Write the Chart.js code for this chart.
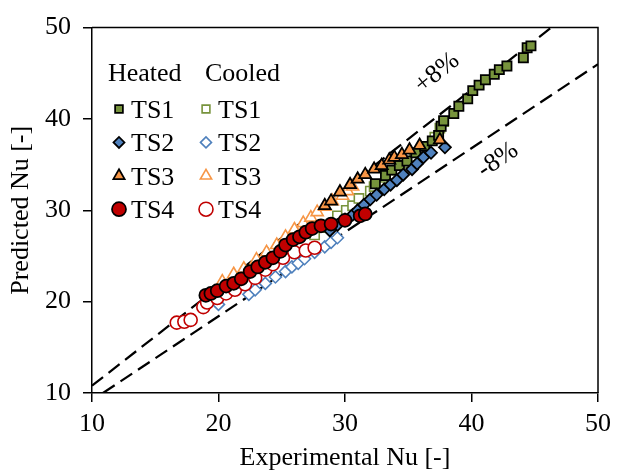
<!DOCTYPE html>
<html>
<head>
<meta charset="utf-8">
<script src="https://cdn.jsdelivr.net/npm/chart.js@4.4.1/dist/chart.umd.min.js"></script>
<style>
  html, body { margin: 0; padding: 0; background: #fff; }
  #wrap { width: 618px; height: 475px; }
</style>
</head>
<body>
<div id="wrap"><canvas id="nuChart"></canvas></div>
<script>
// ── Data ────────────────────────────────────────────────────
const heatedTS1X = [32.4, 33.2, 33.7, 34.3, 34.9, 35.6, 36.3, 36.9, 37.4, 37.6, 37.8, 38.6, 39.0, 39.7, 40.1, 40.6, 41.1, 41.8, 42.2, 42.8, 44.1, 44.4, 44.7];
const heatedTS1Y = [32.9, 33.8, 34.4, 34.9, 35.4, 36.3, 37.0, 37.6, 38.2, 39.2, 39.8, 40.6, 41.4, 42.2, 43.1, 43.7, 44.3, 44.9, 45.4, 45.8, 46.7, 47.8, 48.0];

const heatedTS2X = [28.8, 29.4, 30.0, 30.6, 31.0, 31.5, 32.0, 32.5, 33.1, 33.6, 34.1, 34.6, 35.3, 35.7, 36.2, 36.8, 37.9];
const heatedTS2Y = [27.8, 28.4, 29.0, 29.5, 30.0, 30.6, 31.2, 31.7, 32.3, 32.8, 33.3, 33.9, 34.5, 35.1, 35.8, 36.3, 36.9];

const heatedTS3X = [28.4, 28.9, 29.6, 30.4, 31.0, 31.6, 32.3, 32.9, 33.5, 33.9, 34.5, 35.1, 35.9, 37.5];
const heatedTS3Y = [30.5, 31.0, 32.0, 32.8, 33.4, 33.9, 34.5, 34.9, 35.5, 35.8, 36.1, 36.6, 37.1, 37.7];

const heatedTS4X = [19.0, 19.4, 19.9, 20.6, 21.2, 21.8, 22.5, 23.1, 23.7, 24.3, 24.9, 25.3, 25.9, 26.4, 26.9, 27.4, 28.1, 28.9, 30.0, 31.2, 31.6];
const heatedTS4Y = [20.7, 20.9, 21.2, 21.7, 22.0, 22.5, 23.3, 23.8, 24.3, 24.8, 25.5, 26.2, 26.8, 27.1, 27.6, 28.0, 28.3, 28.5, 28.9, 29.4, 29.6];

const cooledTS1X = [27.6, 28.4, 29.4, 30.1, 30.6, 31.1, 32.0, 32.3, 33.2, 34.1, 34.9, 35.5, 36.3, 37.1, 37.5, 37.8];
const cooledTS1Y = [27.3, 28.1, 29.4, 30.0, 30.5, 31.3, 32.1, 32.6, 33.6, 34.4, 35.2, 35.9, 36.8, 38.0, 39.0, 39.7];

const cooledTS2X = [20.0, 22.4, 22.9, 23.7, 24.5, 25.3, 25.8, 26.3, 26.8, 27.6, 28.4, 28.9, 29.4];
const cooledTS2Y = [19.7, 20.8, 21.3, 22.0, 22.7, 23.3, 23.8, 24.2, 24.7, 25.4, 26.0, 26.5, 27.0];

const cooledTS3X = [20.3, 21.2, 22.0, 23.0, 23.8, 24.6, 25.3, 26.0, 26.7, 27.3, 27.8, 28.4, 29.0, 29.8, 30.2, 30.6];
const cooledTS3Y = [22.2, 23.0, 23.6, 24.6, 25.4, 26.2, 27.1, 27.9, 28.6, 29.2, 29.8, 30.4, 31.0, 31.6, 32.1, 32.6];

const cooledTS4X = [16.7, 17.3, 17.8, 18.8, 19.1, 19.9, 20.6, 21.3, 22.1, 22.9, 23.7, 24.3, 25.1, 26.0, 26.9, 27.6];
const cooledTS4Y = [17.7, 17.8, 18.0, 19.4, 19.9, 20.4, 20.9, 21.3, 21.9, 22.6, 23.5, 24.1, 24.8, 25.4, 25.6, 25.9];

// ±8 % band end points
const plus8X = [10, 46.3];
const plus8Y = [10.8, 50];
const minus8X = [10.87, 50];
const minus8Y = [10, 46];

const axisTicks = [10, 20, 30, 40, 50];

// ── Styles ─────────────────────────────────────────────────
const FONT = "'Liberation Serif', 'Times New Roman', serif";
const GREEN = '#77933C';
const BLUE = '#4F81BD';
const ORANGE = '#F79646';
const RED = '#C00000';

const pts = (xs, ys) => xs.map((x, i) => ({ x, y: ys[i] }));

const marker = (style, r) => ({ pointStyle: style, pointRadius: r, pointHoverRadius: r });

function heated(label, xs, ys, color, style, r, order) {
  return {
    label, data: pts(xs, ys), order,
    backgroundColor: color, borderColor: '#000', pointBorderWidth: 1.75,
    ...marker(style, r)
  };
}
function cooled(label, xs, ys, color, style, r, order) {
  return {
    label, data: pts(xs, ys), order,
    backgroundColor: '#fff', borderColor: color, pointBorderWidth: 1.6,
    ...marker(style, r)
  };
}
function band(label, xs, ys) {
  return {
    label, data: pts(xs, ys), order: 20, showLine: true,
    borderColor: '#000', borderWidth: 2.25, borderDash: [14, 7], pointRadius: 0
  };
}

const datasets = [
  heated('Heated TS1', heatedTS1X, heatedTS1Y, GREEN, 'rect', 6.5, 4),
  heated('Heated TS2', heatedTS2X, heatedTS2Y, BLUE, 'rectRot', 6, 3),
  heated('Heated TS3', heatedTS3X, heatedTS3Y, ORANGE, 'triangle', 7, 2),
  heated('Heated TS4', heatedTS4X, heatedTS4Y, RED, 'circle', 6.5, 1),
  cooled('Cooled TS1', cooledTS1X, cooledTS1Y, GREEN, 'rect', 6.5, 8),
  cooled('Cooled TS2', cooledTS2X, cooledTS2Y, BLUE, 'rectRot', 6, 7),
  cooled('Cooled TS3', cooledTS3X, cooledTS3Y, ORANGE, 'triangle', 7, 6),
  cooled('Cooled TS4', cooledTS4X, cooledTS4Y, RED, 'circle', 6.5, 5),
  band('+8%', plus8X, plus8Y),
  band('-8%', minus8X, minus8Y)
];

// ── Custom plugin: frame, band labels, two-column legend ───
function drawMarker(ctx, ds, x, y, r) {
  ctx.save();
  ctx.fillStyle = ds.backgroundColor;
  ctx.strokeStyle = ds.borderColor;
  ctx.lineWidth = ds.pointBorderWidth;
  if (Chart.helpers && Chart.helpers.drawPoint) {
    Chart.helpers.drawPoint(ctx, { pointStyle: ds.pointStyle, radius: r, rotation: 0, borderWidth: ds.pointBorderWidth }, x, y);
  } else {
    ctx.beginPath();
    ctx.arc(x, y, r, 0, Math.PI * 2);
    ctx.fill();
    ctx.stroke();
  }
  ctx.restore();
}

const decorPlugin = {
  id: 'decor',
  afterDatasetsDraw(chart) {
    const { ctx, chartArea: a } = chart;
    ctx.save();
    // top & right frame
    ctx.strokeStyle = '#000';
    ctx.lineWidth = 1.5;
    ctx.beginPath();
    ctx.moveTo(a.left, a.top);
    ctx.lineTo(a.right, a.top);
    ctx.lineTo(a.right, a.bottom);
    ctx.stroke();

    // band labels
    ctx.fillStyle = '#000';
    ctx.font = '26px ' + FONT;
    ctx.textAlign = 'center';
    ctx.textBaseline = 'middle';
    [['+8%', 437, 73, -39], ['-8%', 498, 160, -34.5]].forEach(([t, x, y, deg]) => {
      ctx.save();
      ctx.translate(x, y);
      ctx.rotate(deg * Math.PI / 180);
      ctx.fillText(t, 0, 0);
      ctx.restore();
    });

    // legend
    ctx.textAlign = 'left';
    ctx.textBaseline = 'alphabetic';
    ctx.fillText('Heated', 108, 81);
    ctx.fillText('Cooled', 205, 81);
    const names = ['TS1', 'TS2', 'TS3', 'TS4'];
    const legendR = [5.5, 5.5, 6.5, 7];
    names.forEach((n, i) => {
      const y = 109 + i * 33.4;
      drawMarker(ctx, chart.data.datasets[i], 119, y, legendR[i]);
      drawMarker(ctx, chart.data.datasets[i + 4], 206, y, legendR[i]);
      ctx.fillText(n, 131, y + 9);
      ctx.fillText(n, 218, y + 9);
    });
    ctx.restore();
  }
};

// ── Chart ──────────────────────────────────────────────────
const axisCommon = {
  type: 'linear',
  min: 10, max: 50,
  afterBuildTicks: s => { s.ticks = axisTicks.map(v => ({ value: v })); },
  grid: { drawOnChartArea: false, color: '#000', tickLength: 9, lineWidth: 1.5 },
  border: { display: true, color: '#000', width: 1.5 },
  ticks: { color: '#000', font: { family: FONT, size: 26 } },
  title: { display: true, color: '#000', font: { family: FONT, size: 26 } }
};

new Chart(document.getElementById('nuChart'), {
  type: 'scatter',
  data: { datasets },
  options: {
    responsive: true,
    maintainAspectRatio: false,
    animation: false,
    layout: { padding: { top: 16, right: 13, left: 0, bottom: 0 } },
    plugins: { legend: { display: false }, tooltip: { enabled: false } },
    scales: {
      x: {
        ...axisCommon,
        ticks: { ...axisCommon.ticks, padding: 7 },
        title: { ...axisCommon.title, text: 'Experimental Nu [-]', padding: { top: 0, bottom: 1 } },
        afterFit: s => { s.height = 82; }
      },
      y: {
        ...axisCommon,
        ticks: { ...axisCommon.ticks, padding: 12 },
        title: { ...axisCommon.title, text: 'Predicted Nu [-]', padding: { top: 6, bottom: 0 } },
        afterFit: s => { s.width = 92; }
      }
    }
  },
  plugins: [decorPlugin]
});
</script>
</body>
</html>
